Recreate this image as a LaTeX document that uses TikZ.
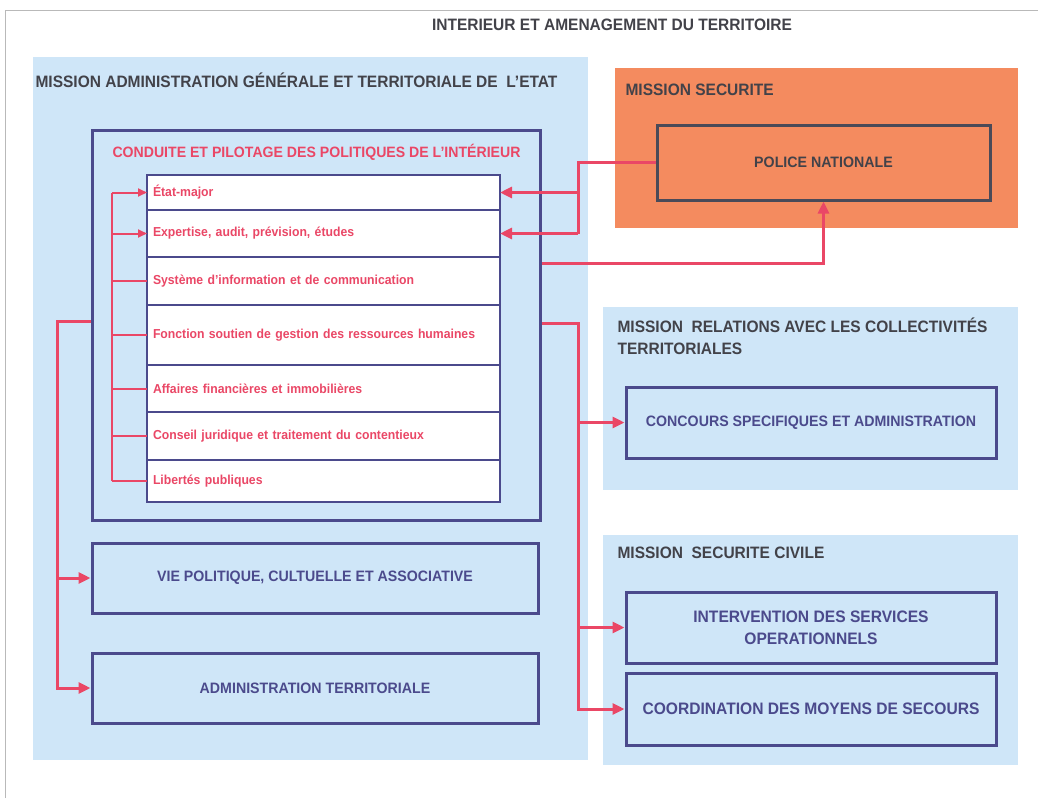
\documentclass[tikz,border=0pt]{standalone}
\usepackage{fontspec}
\setmainfont{Liberation Sans}[FakeStretch=0.94]
\usetikzlibrary{arrows.meta, positioning, calc}
\definecolor{bleuclair}{HTML}{CFE6F8}
\definecolor{orangesec}{HTML}{F48B5F}
\definecolor{marine}{HTML}{4B4A8C}
\definecolor{rouge}{HTML}{EA4766}
\definecolor{gris}{HTML}{424249}
\definecolor{grisfonce}{HTML}{4A4A58}
\tikzset{>=Latex}

\begin{document}
\begin{tikzpicture}[x=1pt, y=-1pt,
    panneau/.style={fill=bleuclair, draw=none, anchor=north west, inner sep=0pt},
    titre/.style={anchor=west, text=gris, font=\bfseries\fontsize{16.5}{22}\selectfont, align=left},
    cadre/.style={draw=marine, line width=3pt, text=marine, font=\bfseries\fontsize{15.1}{19}\selectfont, align=center},
    grand/.style={font=\bfseries\fontsize{16.6}{22}\selectfont},
    ligne/.style={draw=marine, line width=1.2pt, fill=white, outer sep=0pt, text width=341, inner xsep=6pt, align=left, text=rouge, font=\bfseries\fontsize{13}{15}\selectfont},
    lien/.style={draw=rouge, line width=3pt},
    lienfin/.style={draw=rouge, line width=2pt},
    fleche/.style={lien, -{Triangle[length=12pt,width=11pt]}},
    flechefine/.style={lienfin, -{Triangle[length=9pt,width=8pt]}}]

            \useasboundingbox (0,0) rectangle (1038,798);
            \fill[white] (0,0) rectangle (1038,798);

            % Bord de la page scannee
            \draw[gray!55, line width=0.8pt] (5,798) -- (5,10) -- (1038,10);

            % Titre general
            \node[text=gris, font=\bfseries\fontsize{16.5}{19}\selectfont] (titre) at (612,25) {INTERIEUR ET AMENAGEMENT DU TERRITOIRE};

            % Panneaux des missions
            \node[panneau, minimum width=555, minimum height=703] (pAdm) at (33,57) {};
            \node[panneau, fill=orangesec, minimum width=403, minimum height=160] (pSec) at (615,68) {};
            \node[panneau, minimum width=415, minimum height=183] (pRel) at (603,307) {};
            \node[panneau, minimum width=415, minimum height=230] (pCiv) at (603,535) {};

            \node[titre] (tAdm) at (32,80) {MISSION ADMINISTRATION GÉNÉRALE ET TERRITORIALE DE~~L'ETAT};
            \node[titre] (tSec) at (622,90) {MISSION SECURITE};
            \node[titre, anchor=north west] (tRel) at (614,314) {MISSION~~RELATIONS AVEC LES COLLECTIVITÉS\\TERRITORIALES};
            \node[titre] (tCiv) at (614,553) {MISSION~~SECURITE CIVILE};

            % Programme conduite et pilotage
            \node[cadre, minimum width=448, minimum height=390] (conduite) at (316,325) {};
            \node[anchor=west, text=rouge, font=\bfseries\fontsize{15}{18}\selectfont] (tCond) at (109,152) {CONDUITE ET PILOTAGE DES POLITIQUES DE L'INTÉRIEUR};

            % Tableau des actions
            \node[ligne, minimum height=35, anchor=north west] (r1) at (147,175) {État-major};
            \node[ligne, minimum height=47, below=0pt of r1] (r2) {Expertise, audit, prévision, études};
            \node[ligne, minimum height=48, below=0pt of r2] (r3) {Système d'information et de communication};
            \node[ligne, minimum height=60, below=0pt of r3] (r4) {Fonction soutien de gestion des ressources humaines};
            \node[ligne, minimum height=47, below=0pt of r4] (r5) {Affaires financières et immobilières};
            \node[ligne, minimum height=48, below=0pt of r5] (r6) {Conseil juridique et traitement du contentieux};
            \node[ligne, minimum height=42, below=0pt of r6] (r7) {Libertés publiques};

            % Autres programmes
            \node[cadre, minimum width=446, minimum height=70] (vie) at (315,578) {VIE POLITIQUE, CULTUELLE ET ASSOCIATIVE};
            \node[cadre, minimum width=446, minimum height=70] (admin) at (315,688) {ADMINISTRATION TERRITORIALE};
            \node[cadre, draw=grisfonce, text=gris, minimum width=333, minimum height=75] (police) at (823.5,162.5) {POLICE NATIONALE};
            \node[cadre, minimum width=370, minimum height=71] (concours) at (811,422.5) {CONCOURS SPECIFIQUES ET ADMINISTRATION};
            \node[cadre, grand, minimum width=370, minimum height=71] (interv) at (811,627.5) {INTERVENTION DES SERVICES\\OPERATIONNELS};
            \node[cadre, grand, minimum width=370, minimum height=72] (coord) at (811,709) {COORDINATION DES MOYENS DE SECOURS};

            % Accolade a gauche du tableau
            \coordinate (G1) at (112,0);
            \draw[lienfin] (r1.west -| G1) -- (r7.west -| G1);
            \draw[flechefine] (r1.west -| G1) -- (r1.west);
            \draw[flechefine] (r2.west -| G1) -- (r2.west);
            \draw[lienfin] (r3.west -| G1) -- (r3.west);
            \draw[lienfin] (r4.west -| G1) -- (r4.west);
            \draw[lienfin] (r5.west -| G1) -- (r5.west);
            \draw[lienfin] (r6.west -| G1) -- (r6.west);
            \draw[lienfin] (r7.west -| G1) -- (r7.west);

            % Liaisons avec la police nationale
            \coordinate (DR) at (578,0);
            \draw[lien] (police.west) -- (police.west -| DR) -- (r2.east -| DR);
            \draw[fleche] (r1.east -| DR) -- (r1.east);
            \draw[fleche] (r2.east -| DR) -- (r2.east);
            \coordinate (S1) at ($(conduite.north east)+(0,135)$);
            \draw[fleche] (S1) -| (police.south);

            % Liaisons vers les programmes de gauche
            \coordinate (GA) at (57,0);
            \coordinate (S2) at ($(conduite.north west)+(0,193)$);
            \draw[fleche] (S2) -- (S2 -| GA) |- (admin.west);
            \draw[fleche] (vie.west -| GA) -- (vie.west);

            % Liaisons vers les missions de droite
            \coordinate (S3) at ($(conduite.north east)+(0,195)$);
            \draw[fleche] (S3) -- (S3 -| DR) |- (coord.west);
            \draw[fleche] (concours.west -| DR) -- (concours.west);
            \draw[fleche] (interv.west -| DR) -- (interv.west);

\end{tikzpicture}
\end{document}
